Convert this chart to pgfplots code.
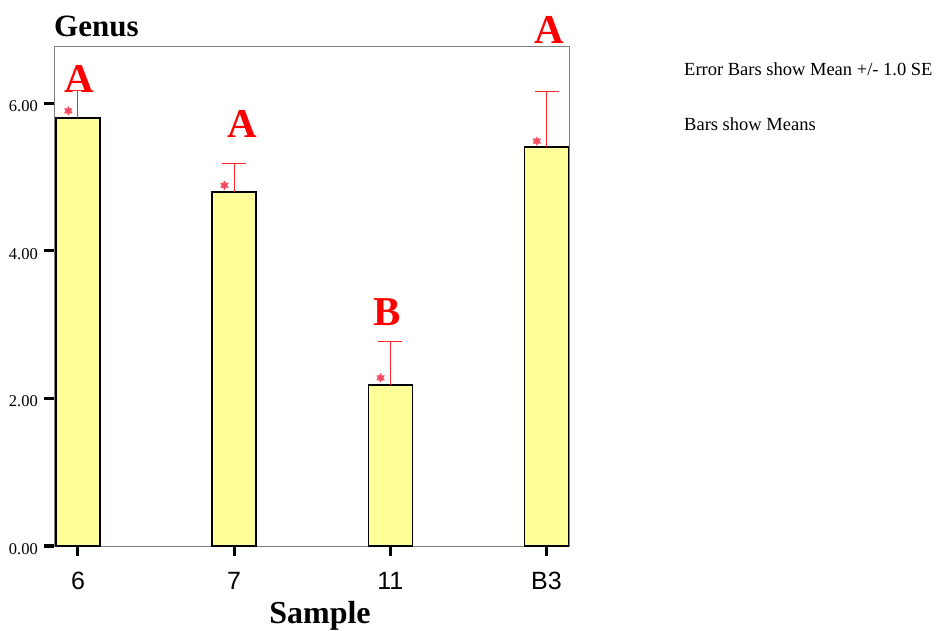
\documentclass[border=0pt]{standalone}
\usepackage{pgfplots}
\pgfplotsset{compat=1.18}
\usepackage{fontspec}
\setmainfont{Liberation Serif}
\newfontfamily\arial{Liberation Sans}
\definecolor{baryellow}{RGB}{255,255,153}
\definecolor{errred}{RGB}{255,40,40}
\definecolor{starred}{RGB}{245,70,90}
\begin{document}
\begin{tikzpicture}
\path[use as bounding box] (0,0) rectangle (936bp,631bp);
\begin{axis}[
  at={(54bp,85bp)}, anchor=south west,
  scale only axis, width=515bp, height=499bp,
  xmin=-0.1535, xmax=3.144, ymin=0, ymax=6.766,
  clip=false,
  axis line style={draw=gray, line width=1bp},
  xtick={0,1,2,3}, xticklabels={6,7,11,B3},
  ytick={0,2,4,6},
  xtick pos=bottom, ytick pos=left,
  tick align=outside, major tick length=10bp,
  tick style={black, line width=3bp},
  /pgf/number format/assume math mode=true,
  yticklabel style={font=\fontsize{16.5bp}{16.5bp}\selectfont,
    /pgf/number format/fixed, /pgf/number format/fixed zerofill,
    /pgf/number format/precision=2, inner sep=0pt, xshift=-6bp, yshift=-3bp},
  xticklabel style={font=\arial\fontsize{25bp}{25bp}\selectfont, yshift=-13bp},
]
\addplot[ybar, bar width=44bp, fill=baryellow, draw=black, line width=1.5bp]
  coordinates {(0,5.80) (1,4.80) (2,2.18) (3,5.41)};
\addplot[draw=none, mark=none, forget plot,
  error bars/.cd, y dir=plus, y explicit,
  error bar style={draw=errred, line width=1bp},
  error mark options={rotate=90, draw=errred, mark size=12bp, line width=1bp}]
  coordinates {(0,5.80) +- (0,0.38) (1,4.80) +- (0,0.38) (2,2.18) +- (0,0.59) (3,5.41) +- (0,0.75)};
\addplot[only marks, mark=*, mark size=3.3bp, starred!80, draw=none, forget plot]
  coordinates {(-0.062,5.90) (0.938,4.89) (1.938,2.28) (2.938,5.49)};
\addplot[only marks, mark=asterisk, mark size=4.5bp, starred, line width=1bp, forget plot]
  coordinates {(-0.062,5.90) (0.938,4.89) (1.938,2.28) (2.938,5.49)};
\node[red, font=\bfseries\fontsize{41bp}{41bp}\selectfont, inner sep=0pt] at (axis cs:0.01,6.33) {A};
\node[red, font=\bfseries\fontsize{41bp}{41bp}\selectfont, inner sep=0pt] at (axis cs:1.054,5.72) {A};
\node[red, font=\bfseries\fontsize{41bp}{41bp}\selectfont, inner sep=0pt] at (axis cs:1.98,3.17) {B};
\node[red, font=\bfseries\fontsize{41bp}{41bp}\selectfont, inner sep=0pt] at (axis cs:3.02,7.0) {A};
\node[anchor=base west, font=\bfseries\fontsize{31bp}{31bp}\selectfont, inner sep=0pt, yshift=10bp] at (rel axis cs:0,1) {Genus};
\node[anchor=base, font=\bfseries\fontsize{32bp}{32bp}\selectfont, inner sep=0pt, yshift=-77bp] at (rel axis cs:0.5165,0) {Sample};
\node[anchor=base west, font=\fontsize{18.5bp}{18.5bp}\selectfont, inner sep=0pt, xshift=115bp, yshift=-29bp] at (rel axis cs:1,1) {Error Bars show Mean +/- 1.0 SE};
\node[anchor=base west, font=\fontsize{18.5bp}{18.5bp}\selectfont, inner sep=0pt, xshift=115bp, yshift=-84bp] at (rel axis cs:1,1) {Bars show Means};
\end{axis}
\end{tikzpicture}
\end{document}
